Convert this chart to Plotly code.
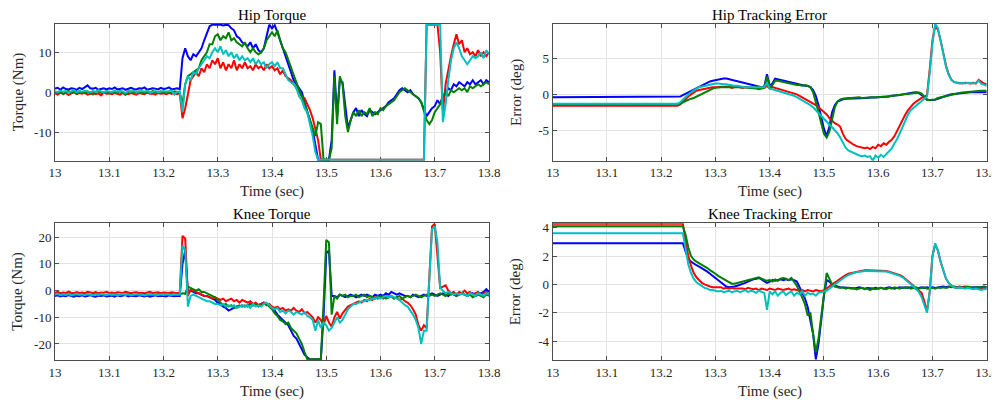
import plotly.graph_objects as go

# sampling of the recorded signals
T0 = 13.0
DT = 0.005

# ---------------- Hip Torque (Nm) ----------------
HT_B = [0.9, 1.1, 0.6, 1.2, 0.8, 0.7, 1.0, 0.9, 0.6, 1.1,
        0.8, 1.3, 1.7, 1.0, 0.9, 1.1, 0.6, 0.8, 1.0, 0.7,
        1.0, 0.8, 1.2, 0.7, 0.9, 1.0, 0.6, 0.9, 1.1, 0.8,
        0.7, 1.0, 0.9, 1.2, 0.6, 0.8, 1.0, 0.9, 0.7, 1.1,
        0.8, 0.9, 1.2, 0.7, 0.9, 1.0, 0.8, 8.5, 11.0, 9.0,
        8.0, 9.5, 9.0, 10.0, 11.0, 13.0, 15.0, 16.5, 16.9, 16.9,
        16.9, 16.9, 16.7, 16.9, 16.8, 16.0, 15.5, 14.0, 13.5, 12.5,
        12.0, 11.5, 12.5, 11.0, 12.0, 10.5, 10.0, 11.0, 14.0, 16.9,
        16.0, 16.8, 15.0, 13.0, 11.0, 9.0, 7.0, 5.0, 3.0, 2.0,
        1.0, 0.0, -2.5, -4.5, -7.0, -9.5, -13.0, -16.9, -16.9, -16.9,
        -16.9, -16.9, -12.0, 5.5, -6.0, 3.0, 2.5, -4.0, -9.0, -7.0,
        -5.0, -4.0, -6.0, -4.5, -5.5, -6.0, -4.5, -5.0, -5.5, -5.0,
        -4.5, -4.0, -3.5, -2.5, -2.0, -1.5, -0.5, 0.5, 1.0, 0.5,
        0.0, 0.5, -0.5, -1.0, -1.5, -2.5, -4.5, -6.0, -5.0, -4.0,
        -3.5, -2.0, -3.0, -1.0, -0.5, 1.0, 0.5, 2.0, 1.5, 2.5,
        2.0, 1.5, 2.5, 2.0, 3.0, 2.0, 2.5, 3.0, 2.0, 3.0,
        2.5]
HT_R = [-0.3, -0.6, -0.1, -0.4, -0.2, -0.7, -0.3, 0.0, -0.5, -0.2,
        -0.4, -0.1, -0.6, -0.3, -0.2, -0.5, -0.3, -0.8, -0.1, -0.4,
        -0.3, -0.5, -0.2, -0.4, -0.6, -0.1, -0.3, -0.5, -0.2, -0.4,
        -0.6, -0.2, -0.3, -0.5, -0.1, -0.4, -0.3, -0.6, -0.2, -0.4,
        -0.3, -0.5, -0.2, -0.4, -0.3, -0.5, -0.3, -6.5, -4.0, 0.0,
        3.0, 4.0, 5.0, 4.0, 6.0, 5.0, 7.0, 6.0, 8.0, 7.0,
        8.5, 6.0, 7.5, 5.5, 7.0, 6.0, 8.0, 5.5, 7.0, 6.0,
        7.5, 6.0, 6.5, 5.5, 7.0, 6.0, 6.5, 5.5, 7.0, 6.0,
        6.5, 5.5, 6.0, 4.5, 5.5, 4.0, 3.5, 3.0, 2.0, 1.0,
        0.0, -1.0, -1.5, -3.0, -4.5, -6.5, -9.0, -12.0, -16.9, -16.9,
        -16.9, -16.9, -16.9, -16.9, -16.9, -16.9, -16.9, -16.9, -16.9, -16.9,
        -16.9, -16.9, -16.9, -16.9, -16.9, -16.9, -16.9, -16.9, -16.9, -16.9,
        -16.9, -16.9, -16.9, -16.9, -16.9, -16.9, -16.9, -16.9, -16.9, -16.9,
        -16.9, -16.9, -16.9, -16.9, -16.9, -16.9, -16.9, 16.9, 16.9, 16.9,
        16.9, 16.9, 10.0, -5.0, 2.0, 6.0, 9.0, 12.0, 14.5, 12.0,
        13.0, 10.0, 11.0, 9.5, 10.0, 9.0, 10.5, 9.0, 10.0, 9.0,
        10.0]
HT_G = [0.2, -0.3, 0.1, -0.5, 0.0, 0.3, -0.2, 0.1, -0.4, 0.2,
        0.0, -0.3, 0.2, -0.1, -0.6, 0.1, 0.3, -0.2, 0.0, 0.2,
        -0.3, 0.1, 0.0, -0.2, 0.3, -0.1, -0.7, 0.1, 0.2, -0.2,
        0.0, 0.2, -0.3, 0.1, 0.0, -0.2, 0.3, -0.1, 0.0, 0.2,
        -0.2, 0.1, 0.0, -0.3, 0.2, 0.0, -0.1, -3.0, 2.0, 4.0,
        4.5, 5.0, 5.5, 6.0, 8.0, 9.0, 10.0, 12.0, 12.0, 14.0,
        14.5, 13.0, 14.0, 13.5, 15.0, 13.0, 13.5, 12.5, 12.0, 11.5,
        12.5, 11.0, 10.0, 11.0, 10.0, 9.5, 10.0, 11.0, 13.0, 14.0,
        15.0, 14.0, 15.5, 13.0, 11.0, 10.0, 8.0, 6.0, 4.0, 2.0,
        0.5, -1.0, -3.0, -5.0, -7.5, -9.0, -11.0, -7.5, -8.0, -16.9,
        -16.9, -16.9, -14.0, 4.0, -8.0, 4.0, 2.0, -6.0, -10.0, -7.0,
        -5.0, -6.0, -4.5, -6.0, -5.0, -5.5, -4.0, -6.0, -5.0, -5.5,
        -4.0, -4.5, -3.5, -3.0, -2.5, -2.0, -1.0, 0.0, 0.5, 1.0,
        0.5, 0.0, -0.5, -1.0, -1.5, -2.5, -5.0, -7.0, -8.0, -7.0,
        -5.0, -4.0, -3.0, -1.0, 0.0, -1.0, 0.5, 0.0, 0.5, 1.0,
        0.5, 1.0, 0.0, 1.5, 1.0, 1.5, 2.0, 1.5, 2.0, 2.5,
        2.0]
HT_C = [0.2, 0.0, 0.4, 0.1, 0.3, -0.1, 0.2, 0.5, 0.0, 0.3,
        0.1, 0.4, 0.2, 0.0, 0.3, 0.1, 0.5, 0.2, -0.1, 0.3,
        0.2, 0.0, 0.4, 0.1, 0.3, 0.2, -0.2, 0.3, 0.1, 0.4,
        0.0, 0.2, 0.3, 0.1, 0.4, -0.1, 0.2, 0.3, 0.0, 0.2,
        0.3, 0.1, 0.2, 0.4, -0.6, 0.1, 0.2, -5.0, 2.0, 4.0,
        3.0, 5.0, 4.5, 6.0, 7.0, 8.0, 9.0, 8.5, 10.0, 11.0,
        10.0, 11.5, 9.5, 10.5, 9.0, 10.0, 8.5, 9.5, 8.0, 9.0,
        8.0, 8.5, 7.5, 8.5, 7.0, 8.0, 7.0, 7.5, 6.0, 7.0,
        7.5, 6.5, 7.5, 6.0, 6.0, 4.5, 3.0, 2.5, 2.0, 1.0,
        -1.0, -2.0, -4.0, -5.0, -8.0, -11.0, -15.0, -16.9, -16.9, -16.9,
        -16.9, -16.9, -16.9, -16.9, -16.9, -16.9, -16.9, -16.9, -16.9, -16.9,
        -16.9, -16.9, -16.9, -16.9, -16.9, -16.9, -16.9, -16.9, -16.9, -16.9,
        -16.9, -16.9, -16.9, -16.9, -16.9, -16.9, -16.9, -16.9, -16.9, -16.9,
        -16.9, -16.9, -16.9, -16.9, -16.9, -16.9, -16.9, 16.9, 16.9, 16.9,
        16.9, 16.9, 16.9, -7.5, -3.0, 3.0, 8.0, 11.0, 12.5, 11.0,
        9.0, 8.0, 7.0, 8.0, 9.0, 8.5, 9.0, 10.0, 8.5, 10.5,
        9.5]

# ---------------- Hip Tracking Error (deg) ----------------
HE_B = [-0.4, -0.4, -0.4, -0.4, -0.4, -0.4, -0.4, -0.4, -0.4, -0.4,
        -0.4, -0.4, -0.4, -0.4, -0.4, -0.4, -0.4, -0.4, -0.4, -0.4,
        -0.4, -0.4, -0.4, -0.4, -0.4, -0.4, -0.4, -0.4, -0.4, -0.4,
        -0.4, -0.4, -0.4, -0.4, -0.4, -0.4, -0.4, -0.4, -0.4, -0.4,
        -0.4, -0.4, -0.4, -0.4, -0.4, -0.4, -0.4, -0.3, -0.1, 0.1,
        0.3, 0.5, 0.6, 0.8, 1.0, 1.2, 1.4, 1.6, 1.8, 1.9,
        2.0, 2.1, 2.2, 2.2, 2.2, 2.1, 2.1, 2.0, 1.9, 1.8,
        1.7, 1.6, 1.5, 1.3, 1.2, 1.1, 1.0, 1.0, 1.1, 2.8,
        1.2, 1.5, 2.2, 2.1, 2.0, 1.9, 1.9, 1.8, 1.7, 1.6,
        1.5, 1.4, 1.3, 1.2, 1.2, 1.0, 0.6, -0.2, -1.5, -3.0,
        -4.8, -5.8, -4.5, -2.5, -1.5, -1.0, -0.8, -0.7, -0.6, -0.6,
        -0.6, -0.55, -0.6, -0.5, -0.55, -0.5, -0.5, -0.45, -0.5, -0.45,
        -0.4, -0.4, -0.35, -0.3, -0.3, -0.2, -0.2, -0.1, -0.1, 0.0,
        0.1, 0.15, 0.2, 0.25, 0.3, 0.2, -0.1, -0.4, -0.7, -0.8,
        -0.8, -0.75, -0.6, -0.45, -0.3, -0.2, -0.1, 0.0, 0.05, 0.1,
        0.2, 0.2, 0.25, 0.25, 0.3, 0.3, 0.25, 0.3, 0.3, 0.3,
        0.3]
HE_R = [-1.6, -1.6, -1.6, -1.6, -1.6, -1.6, -1.6, -1.6, -1.6, -1.6,
        -1.6, -1.6, -1.6, -1.6, -1.6, -1.6, -1.6, -1.6, -1.6, -1.6,
        -1.6, -1.6, -1.6, -1.6, -1.6, -1.6, -1.6, -1.6, -1.6, -1.6,
        -1.6, -1.6, -1.6, -1.6, -1.6, -1.6, -1.6, -1.6, -1.6, -1.6,
        -1.6, -1.6, -1.6, -1.6, -1.6, -1.6, -1.6, -1.4, -1.0, -0.6,
        -0.3, 0.0, 0.3, 0.5, 0.6, 0.7, 0.7, 0.8, 0.9, 1.0,
        1.0, 1.0, 1.1, 1.0, 1.0, 1.1, 0.9, 1.0, 1.1, 1.0,
        0.9, 1.0, 1.0, 0.9, 1.0, 0.9, 0.9, 1.0, 0.9, 1.2,
        0.8, 1.0, 0.9, 0.8, 0.6, 0.5, 0.4, 0.3, 0.2, 0.1,
        0.0, -0.2, -0.4, -0.6, -0.8, -1.0, -1.2, -1.5, -1.8, -2.1,
        -2.4, -2.8, -3.3, -3.7, -4.0, -4.2, -4.5, -5.5, -6.2, -6.5,
        -6.8, -7.0, -7.2, -7.3, -7.4, -7.5, -7.4, -7.6, -7.3, -7.5,
        -7.0, -7.2, -6.8, -7.0, -6.6, -6.3, -5.8, -5.0, -4.2, -3.5,
        -2.8, -2.2, -1.7, -1.3, -1.0, -0.7, -0.5, -0.3, -0.1, 3.5,
        7.5, 9.5, 9.0, 7.5, 5.5, 4.0, 2.8, 2.0, 1.7, 1.6,
        1.6, 1.5, 1.6, 1.5, 1.5, 1.6, 1.5, 2.0, 1.7, 1.5,
        1.4]
HE_G = [-1.4, -1.4, -1.4, -1.4, -1.4, -1.4, -1.4, -1.4, -1.4, -1.4,
        -1.4, -1.4, -1.4, -1.4, -1.4, -1.4, -1.4, -1.4, -1.4, -1.4,
        -1.4, -1.4, -1.4, -1.4, -1.4, -1.4, -1.4, -1.4, -1.4, -1.4,
        -1.4, -1.4, -1.4, -1.4, -1.4, -1.4, -1.4, -1.4, -1.4, -1.4,
        -1.4, -1.4, -1.4, -1.4, -1.4, -1.4, -1.4, -1.3, -1.1, -0.9,
        -0.8, -0.6, -0.5, -0.3, -0.2, 0.0, 0.2, 0.4, 0.6, 0.8,
        0.9, 1.0, 1.0, 1.0, 1.0, 1.1, 1.0, 1.0, 1.0, 1.0,
        1.0, 1.0, 0.9, 0.9, 0.8, 0.8, 0.7, 0.8, 0.9, 2.5,
        1.0, 1.3, 1.9, 1.9, 1.8, 1.7, 1.6, 1.5, 1.4, 1.4,
        1.3, 1.3, 1.2, 1.3, 1.2, 1.0, 0.3, -1.0, -2.5, -4.0,
        -5.5, -6.0, -5.2, -3.5, -1.8, -1.0, -0.7, -0.6, -0.5, -0.5,
        -0.5, -0.45, -0.5, -0.4, -0.5, -0.45, -0.4, -0.45, -0.4, -0.4,
        -0.4, -0.35, -0.3, -0.3, -0.25, -0.2, -0.15, -0.1, -0.05, 0.0,
        0.1, 0.15, 0.2, 0.25, 0.3, 0.25, 0.1, -0.3, -0.8, -0.8,
        -0.8, -0.7, -0.5, -0.4, -0.3, -0.2, -0.1, 0.0, 0.1, 0.15,
        0.2, 0.25, 0.3, 0.35, 0.4, 0.4, 0.45, 0.45, 0.5, 0.5,
        0.5]
HE_C = [-1.3, -1.3, -1.3, -1.3, -1.3, -1.3, -1.3, -1.3, -1.3, -1.3,
        -1.3, -1.3, -1.3, -1.3, -1.3, -1.3, -1.3, -1.3, -1.3, -1.3,
        -1.3, -1.3, -1.3, -1.3, -1.3, -1.3, -1.3, -1.3, -1.3, -1.3,
        -1.3, -1.3, -1.3, -1.3, -1.3, -1.3, -1.3, -1.3, -1.3, -1.3,
        -1.3, -1.3, -1.3, -1.3, -1.3, -1.3, -1.3, -1.1, -0.7, -0.3,
        0.0, 0.3, 0.6, 0.8, 1.0, 1.1, 1.2, 1.3, 1.4, 1.5,
        1.5, 1.5, 1.4, 1.4, 1.4, 1.3, 1.3, 1.2, 1.2, 1.1,
        1.1, 1.0, 1.0, 1.0, 1.0, 1.0, 0.9, 0.9, 1.0, 1.6,
        0.8, 0.7, 0.6, 0.5, 0.4, 0.3, 0.2, 0.1, 0.0, -0.2,
        -0.4, -0.6, -0.8, -1.0, -1.2, -1.5, -1.8, -2.2, -2.6, -3.0,
        -3.4, -3.8, -4.2, -4.6, -5.0, -5.4, -6.0, -6.8, -7.4, -7.8,
        -8.0, -8.2, -8.4, -8.5, -8.6, -8.5, -8.7, -8.6, -9.2, -8.5,
        -8.8, -8.4, -8.7, -8.3, -8.0, -7.5, -6.8, -6.2, -5.4, -4.5,
        -3.6, -2.8, -2.2, -1.9, -1.6, -1.3, -1.0, -0.7, -0.3, 3.0,
        7.0, 9.8, 9.2, 7.5, 5.5, 3.8, 2.7, 2.0, 1.7, 1.6,
        1.5, 1.6, 1.5, 1.6, 1.5, 1.5, 1.6, 1.9, 1.5, 1.3,
        1.2]

# ---------------- Knee Torque (Nm) ----------------
KT_B = [-2.0, -1.8, -2.2, -1.9, -2.1, -1.7, -2.0, -2.3, -1.9, -2.1,
        -1.8, -2.2, -2.0, -1.7, -2.1, -2.3, -1.9, -2.0, -1.8, -2.2,
        -2.0, -1.9, -2.3, -1.8, -2.1, -2.0, -1.7, -2.2, -1.9, -2.0,
        -2.1, -1.8, -2.0, -2.2, -1.9, -2.3, -2.0, -1.8, -2.1, -1.9,
        -2.0, -2.2, -1.8, -2.0, -2.1, -1.9, -2.0, 10.0, 15.0, -1.0,
        0.0, -0.5, -1.0, -1.0, -1.5, -2.0, -2.0, -2.5, -3.0, -3.5,
        -4.5, -5.0, -6.0, -6.5, -7.5, -7.0, -6.5, -6.0, -6.0, -5.5,
        -6.0, -5.5, -5.0, -5.5, -5.0, -5.5, -5.0, -4.5, -5.0, -5.5,
        -6.5, -7.5, -9.0, -10.0, -11.0, -12.0, -13.0, -15.0, -17.0, -18.0,
        -20.0, -22.0, -24.0, -25.0, -25.7, -25.7, -25.7, -25.7, -25.7, -10.0,
        14.0, 15.0, -2.0, -2.0, -2.5, -1.5, -2.0, -2.5, -2.0, -1.5,
        -2.0, -2.5, -2.0, -1.5, -2.0, -1.5, -2.0, -2.5, -1.5, -2.0,
        -1.5, -2.0, -1.0, -1.5, -0.5, -1.0, -1.5, -1.0, -1.5, -2.0,
        -2.0, -2.5, -1.5, -2.0, -2.5, -2.0, -1.5, -2.0, -1.5, -1.0,
        -1.5, -2.0, -1.5, -1.0, -1.5, -2.0, -1.0, -1.5, -2.0, -1.5,
        -1.0, -1.5, -2.0, -1.5, -1.0, -2.0, -1.5, -1.0, -0.5, 0.5,
        -0.5]
KT_R = [-0.8, -0.5, -1.0, -0.7, -0.9, -0.4, -0.8, -1.0, -0.6, -0.9,
        -0.7, -1.0, -0.5, -0.8, -0.9, -0.6, -1.0, -0.7, -0.8, -0.5,
        -0.9, -0.7, -1.0, -0.6, -0.8, -0.9, -0.5, -0.8, -1.0, -0.7,
        -0.6, -0.9, -0.8, -1.0, -0.7, -0.5, -0.9, -0.8, -0.6, -1.0,
        -0.7, -0.8, -0.9, -0.6, -0.8, -1.0, -0.7, 20.5, 19.5, -2.0,
        0.5, 0.0, -0.5, -1.0, -1.5, -2.0, -2.0, -2.5, -3.0, -2.5,
        -3.0, -3.5, -3.0, -4.0, -3.5, -3.0, -4.0, -3.5, -4.5, -3.5,
        -4.0, -4.5, -4.0, -5.0, -4.5, -5.5, -5.0, -4.5, -5.5, -5.0,
        -6.0, -6.5, -6.0, -7.0, -6.5, -7.5, -7.0, -7.5, -6.5, -7.5,
        -8.0, -7.0, -8.5, -8.0, -9.0, -10.0, -12.0, -10.0, -11.0, -13.0,
        -9.5, -12.0, -13.5, -10.0, -8.0, -10.5, -8.5, -7.0, -6.0, -5.5,
        -5.0, -4.5, -4.0, -4.5, -3.5, -4.0, -3.0, -3.5, -2.5, -3.0,
        -2.5, -3.0, -2.0, -2.5, -2.0, -3.0, -2.5, -3.5, -3.0, -4.0,
        -4.5, -5.5, -7.0, -9.0, -13.0, -15.0, -13.0, -14.0, 5.0, 24.0,
        25.0, 12.0, 1.0, 1.5, 2.0, 0.0, -1.0, -0.5, -1.5, -0.5,
        -1.0, 0.0, -1.0, -0.5, -1.5, -1.0, -0.5, -1.5, -1.0, -0.5,
        -1.5]
KT_G = [-1.5, -1.3, -1.7, -1.4, -1.6, -1.2, -1.5, -1.8, -1.4, -1.6,
        -1.3, -1.6, -1.4, -1.7, -1.5, -1.2, -1.6, -1.4, -1.8, -1.5,
        -1.4, -1.6, -1.3, -1.5, -1.7, -1.4, -1.6, -1.2, -1.5, -1.7,
        -1.5, -1.3, -1.6, -1.4, -1.7, -1.5, -1.3, -1.6, -1.4, -1.5,
        -1.6, -1.4, -1.5, -1.3, -1.7, -1.5, -1.4, -1.0, -1.2, 1.5,
        1.0, 0.5, 0.0, 0.5, -0.5, -0.5, -1.0, -1.5, -2.0, -2.5,
        -3.5, -4.5, -5.5, -5.0, -6.0, -5.5, -6.5, -6.0, -5.5, -6.0,
        -5.5, -6.0, -5.0, -5.5, -5.0, -6.0, -5.5, -5.0, -5.0, -6.0,
        -7.0, -8.5, -9.5, -11.0, -11.5, -12.5, -12.0, -14.0, -15.0, -16.0,
        -18.0, -20.0, -23.0, -25.7, -25.7, -25.7, -25.7, -25.7, -25.7, -5.0,
        19.0, 18.0, -9.0, -2.0, -3.0, -1.5, -2.0, -1.5, -2.5, -2.0,
        -2.0, -1.5, -2.5, -2.0, -1.5, -2.5, -2.0, -2.5, -3.0, -2.0,
        -2.5, -2.0, -3.0, -2.5, -2.0, -3.0, -2.5, -2.0, -3.0, -2.5,
        -2.0, -2.5, -2.0, -1.5, -2.0, -2.5, -2.0, -1.5, -2.0, -1.5,
        -2.0, -1.5, -1.0, -1.5, -2.0, -1.0, -1.5, -1.0, -2.0, -1.5,
        -1.0, -1.5, -2.0, -1.5, -2.5, -2.0, -1.5, -2.0, -2.5, -1.5,
        -2.0]
KT_C = [-1.5, -1.2, -1.7, -1.4, -1.6, -1.3, -1.8, -1.5, -1.2, -1.6,
        -1.4, -1.7, -1.3, -1.5, -1.8, -1.4, -1.6, -1.2, -1.5, -1.7,
        -1.3, -1.6, -1.4, -1.8, -1.5, -1.2, -1.6, -1.4, -1.7, -1.5,
        -1.3, -1.6, -1.5, -1.8, -1.4, -1.2, -1.6, -1.5, -1.7, -1.4,
        -1.6, -1.3, -1.5, -1.7, -1.4, -1.6, -1.5, 17.0, 15.0, -6.0,
        -2.0, -1.5, -2.0, -2.5, -3.0, -3.5, -4.0, -4.0, -4.5, -5.0,
        -5.0, -5.5, -5.0, -6.0, -5.5, -6.0, -5.5, -6.5, -6.0, -5.5,
        -6.0, -5.5, -6.5, -5.0, -6.0, -5.5, -6.0, -5.0, -4.5, -5.5,
        -6.5, -7.0, -6.5, -8.0, -7.5, -8.5, -7.5, -8.0, -9.0, -8.0,
        -8.5, -9.0, -8.0, -9.5, -10.0, -11.0, -15.0, -11.0, -14.0, -12.0,
        -13.0, -15.0, -14.0, -12.0, -10.0, -12.0, -11.0, -9.0, -7.0, -6.0,
        -5.0, -5.0, -4.5, -4.0, -4.0, -3.5, -3.5, -3.0, -3.0, -2.5,
        -3.0, -2.5, -2.0, -2.5, -2.0, -2.5, -3.0, -3.5, -4.5, -5.5,
        -6.0, -7.5, -9.0, -11.0, -14.0, -20.0, -15.0, -15.0, 2.0, 23.0,
        24.0, 18.0, 1.0, 0.0, -1.0, -0.5, -1.0, -1.5, -1.0, -1.5,
        -1.0, -1.5, -2.0, -1.0, -1.5, -2.0, -1.0, -1.5, -2.0, -1.0,
        -1.5]

# ---------------- Knee Tracking Error (deg) ----------------
KE_B = [2.9, 2.9, 2.9, 2.9, 2.9, 2.9, 2.9, 2.9, 2.9, 2.9,
        2.9, 2.9, 2.9, 2.9, 2.9, 2.9, 2.9, 2.9, 2.9, 2.9,
        2.9, 2.9, 2.9, 2.9, 2.9, 2.9, 2.9, 2.9, 2.9, 2.9,
        2.9, 2.9, 2.9, 2.9, 2.9, 2.9, 2.9, 2.9, 2.9, 2.9,
        2.9, 2.9, 2.9, 2.9, 2.9, 2.9, 2.9, 2.9, 2.9, 2.3,
        1.8, 1.6, 1.45, 1.35, 1.25, 1.15, 1.0, 0.9, 0.75, 0.6,
        0.45, 0.3, 0.15, 0.0, -0.15, -0.2, -0.2, -0.15, -0.1, -0.05,
        0.0, 0.1, 0.2, 0.3, 0.35, 0.4, 0.45, 0.35, 0.2, 0.1,
        0.2, 0.3, 0.25, 0.3, 0.35, 0.3, 0.35, 0.3, 0.35, 0.3,
        0.2, -0.2, -0.6, -1.0, -1.6, -2.5, -3.5, -5.3, -4.2, -2.5,
        -0.8, 0.3, 0.2, 0.0, -0.1, -0.15, -0.2, -0.2, -0.25, -0.2,
        -0.25, -0.3, -0.25, -0.2, -0.25, -0.3, -0.25, -0.3, -0.3, -0.25,
        -0.3, -0.25, -0.3, -0.25, -0.2, -0.25, -0.3, -0.25, -0.2, -0.25,
        -0.2, -0.25, -0.2, -0.25, -0.3, -0.25, -0.2, -0.25, -0.2, -0.25,
        -0.2, -0.25, -0.2, -0.2, -0.15, -0.2, -0.15, -0.2, -0.15, -0.2,
        -0.15, -0.2, -0.15, -0.2, -0.25, -0.2, -0.2, -0.25, -0.2, -0.15,
        -0.2]
KE_R = [4.27, 4.27, 4.27, 4.27, 4.27, 4.27, 4.27, 4.27, 4.27, 4.27,
        4.27, 4.27, 4.27, 4.27, 4.27, 4.27, 4.27, 4.27, 4.27, 4.27,
        4.27, 4.27, 4.27, 4.27, 4.27, 4.27, 4.27, 4.27, 4.27, 4.27,
        4.27, 4.27, 4.27, 4.27, 4.27, 4.27, 4.27, 4.27, 4.27, 4.27,
        4.27, 4.27, 4.27, 4.27, 4.27, 4.27, 4.27, 4.27, 4.27, 3.0,
        2.0, 1.3, 0.8, 0.5, 0.3, 0.1, 0.0, -0.1, -0.15, -0.2,
        -0.2, -0.25, -0.2, -0.3, -0.25, -0.3, -0.25, -0.3, -0.3, -0.25,
        -0.3, -0.35, -0.25, -0.3, -0.35, -0.3, -0.4, -0.3, -0.35, -0.4,
        -0.3, -0.35, -0.4, -0.3, -0.35, -0.4, -0.35, -0.3, -0.4, -0.35,
        -0.4, -0.45, -0.4, -0.5, -0.4, -0.45, -0.5, -0.4, -0.45, -0.5,
        -0.4, -0.3, -0.15, 0.0, 0.1, 0.25, 0.4, 0.55, 0.65, 0.75,
        0.8, 0.85, 0.9, 0.95, 0.95, 1.0, 1.0, 1.0, 1.0, 1.0,
        1.0, 1.0, 0.95, 0.95, 0.9, 0.85, 0.8, 0.75, 0.65, 0.55,
        0.4, 0.25, 0.1, -0.1, -0.3, -0.45, -0.6, -1.2, -1.9, -0.5,
        2.0, 2.8, 2.4, 1.6, 0.9, 0.4, 0.1, -0.1, -0.2, -0.2,
        -0.2, -0.25, -0.2, -0.25, -0.2, -0.3, -0.25, -0.3, -0.3, -0.25,
        -0.3]
KE_G = [4.1, 4.1, 4.1, 4.1, 4.1, 4.1, 4.1, 4.1, 4.1, 4.1,
        4.1, 4.1, 4.1, 4.1, 4.1, 4.1, 4.1, 4.1, 4.1, 4.1,
        4.1, 4.1, 4.1, 4.1, 4.1, 4.1, 4.1, 4.1, 4.1, 4.1,
        4.1, 4.1, 4.1, 4.1, 4.1, 4.1, 4.1, 4.1, 4.1, 4.1,
        4.1, 4.1, 4.1, 4.1, 4.1, 4.1, 4.1, 4.1, 4.1, 3.5,
        2.6, 2.0, 1.75, 1.6, 1.5, 1.4, 1.25, 1.15, 1.0, 0.9,
        0.75, 0.6, 0.5, 0.35, 0.25, 0.15, 0.05, 0.05, 0.1, 0.15,
        0.2, 0.25, 0.3, 0.35, 0.4, 0.45, 0.5, 0.4, 0.3, 0.25,
        0.3, 0.2, 0.35, 0.25, 0.4, 0.45, 0.4, 0.3, 0.45, 0.2,
        -0.1, -0.5, -0.9, -1.4, -2.2, -2.0, -3.5, -4.8, -3.8, -2.2,
        -0.5, 0.8, 0.4, 0.0, -0.15, -0.2, -0.25, -0.2, -0.3, -0.25,
        -0.3, -0.25, -0.35, -0.3, -0.25, -0.35, -0.3, -0.4, -0.3, -0.35,
        -0.3, -0.25, -0.3, -0.35, -0.25, -0.3, -0.2, -0.25, -0.3, -0.2,
        -0.25, -0.2, -0.3, -0.25, -0.2, -0.3, -0.25, -0.2, -0.3, -0.25,
        -0.25, -0.3, -0.2, -0.25, -0.2, -0.25, -0.2, -0.15, -0.2, -0.25,
        -0.2, -0.25, -0.2, -0.15, -0.2, -0.25, -0.2, -0.2, -0.25, -0.2,
        -0.2]
KE_C = [3.6, 3.6, 3.6, 3.6, 3.6, 3.6, 3.6, 3.6, 3.6, 3.6,
        3.6, 3.6, 3.6, 3.6, 3.6, 3.6, 3.6, 3.6, 3.6, 3.6,
        3.6, 3.6, 3.6, 3.6, 3.6, 3.6, 3.6, 3.6, 3.6, 3.6,
        3.6, 3.6, 3.6, 3.6, 3.6, 3.6, 3.6, 3.6, 3.6, 3.6,
        3.6, 3.6, 3.6, 3.6, 3.6, 3.6, 3.6, 3.6, 3.6, 2.5,
        1.4, 0.8, 0.4, 0.15, 0.0, -0.15, -0.25, -0.3, -0.4, -0.4,
        -0.45, -0.5, -0.45, -0.55, -0.5, -0.45, -0.55, -0.5, -0.45, -0.55,
        -0.5, -0.4, -0.55, -0.45, -0.5, -0.6, -0.45, -0.5, -0.6, -1.8,
        -0.5, -0.7, -0.5, -0.8, -0.6, -0.5, -0.75, -0.6, -0.5, -0.8,
        -0.6, -0.7, -0.5, -0.8, -0.6, -0.7, -0.65, -0.8, -0.6, -0.55,
        -0.5, -0.45, -0.3, -0.15, 0.0, 0.15, 0.3, 0.45, 0.55, 0.65,
        0.75, 0.8, 0.85, 0.9, 0.9, 0.95, 0.95, 0.95, 0.95, 0.95,
        0.95, 0.95, 0.9, 0.9, 0.85, 0.8, 0.75, 0.7, 0.6, 0.5,
        0.35, 0.2, 0.05, -0.15, -0.35, -0.55, -0.9, -1.5, -2.0, -0.5,
        2.0, 2.9, 2.4, 1.6, 0.9, 0.4, 0.1, -0.1, -0.2, -0.25,
        -0.2, -0.25, -0.3, -0.25, -0.3, -0.35, -0.3, -0.35, -0.4, -0.35,
        -0.35]

X_TICKS = [13.0, 13.1, 13.2, 13.3, 13.4, 13.5, 13.6, 13.7, 13.8]
X_LABELS = ["13", "13.1", "13.2", "13.3", "13.4", "13.5", "13.6", "13.7", "13.8"]

COLORS = ["#0000ff", "#ff0000", "#008000", "#00bfbf"]
NAMES = ["Blue", "Red", "Green", "Cyan"]

W, H = 1000, 401
OFF = 8   # the page places the figure 8 px in from the top-left corner
FONT = "Liberation Serif"
TXT = "#262626"

# panel boxes in page pixels (left, right), (top, bottom)
panels = [
    dict(title="Hip Torque", ylab="Torque (Nm)", series=[HT_B, HT_R, HT_G, HT_C],
         yr=[-17.15, 17.15], yt=[-10, 0, 10], xpx=(55, 489), ypx=(23.7, 160.7)),
    dict(title="Hip Tracking Error", ylab="Error (deg)", series=[HE_B, HE_R, HE_G, HE_C],
         yr=[-9.22, 9.82], yt=[-5, 0, 5], xpx=(552.7, 986.7), ypx=(23.7, 160.7)),
    dict(title="Knee Torque", ylab="Torque (Nm)", series=[KT_B, KT_R, KT_G, KT_C],
         yr=[-26.0, 25.2], yt=[-20, -10, 0, 10, 20], xpx=(55, 489), ypx=(223.3, 360)),
    dict(title="Knee Tracking Error", ylab="Error (deg)", series=[KE_B, KE_R, KE_G, KE_C],
         yr=[-5.34, 4.31], yt=[-4, -2, 0, 2, 4], xpx=(552.7, 986.7), ypx=(223.3, 360)),
]

for p in panels:
    for s in p["series"]:
        assert len(s) == 161, (p["title"], len(s))


def px_x(v):
    return (v - OFF) / W


def px_y(v):
    return 1 - (v - OFF) / H


fig = go.Figure()
annotations = []
for i, p in enumerate(panels, start=1):
    xa = "x" if i == 1 else f"x{i}"
    ya = "y" if i == 1 else f"y{i}"
    for s, c, n in zip(p["series"], COLORS, NAMES):
        fig.add_trace(go.Scatter(y=s, x0=T0, dx=DT, mode="lines", name=n,
                                 line=dict(color=c, width=2), xaxis=xa, yaxis=ya,
                                 showlegend=False, hoverinfo="skip"))
    xd = [px_x(p["xpx"][0]), px_x(p["xpx"][1])]
    yd = [px_y(p["ypx"][1]), px_y(p["ypx"][0])]
    common = dict(showline=True, linecolor="#4d4d4d", linewidth=1, mirror="ticks",
                  ticks="inside", ticklen=4, tickcolor="#4d4d4d", automargin=False,
                  showgrid=True, gridcolor="#e3e3e3", gridwidth=1, zeroline=False,
                  layer="below traces",
                  tickfont=dict(family=FONT, size=13, color=TXT))
    fig.layout[("xaxis" if i == 1 else f"xaxis{i}")] = dict(
        domain=xd, anchor=ya, range=[13.0, 13.8], tickvals=X_TICKS, ticktext=X_LABELS, **common)
    fig.layout[("yaxis" if i == 1 else f"yaxis{i}")] = dict(
        domain=yd, anchor=xa, range=p["yr"], tickvals=p["yt"],
        ticktext=[str(v) for v in p["yt"]], **common)
    xc = (xd[0] + xd[1]) / 2
    yc = (yd[0] + yd[1]) / 2
    annotations.append(dict(text=p["title"], x=xc, y=px_y(p["ypx"][0] - 9.0),
                            xref="paper", yref="paper", showarrow=False,
                            xanchor="center", yanchor="middle",
                            font=dict(family=FONT, size=15, color="#000000")))
    annotations.append(dict(text="Time (sec)", x=xc, y=px_y(p["ypx"][1] + 31),
                            xref="paper", yref="paper", showarrow=False,
                            xanchor="center", yanchor="middle",
                            font=dict(family=FONT, size=15, color=TXT)))
    annotations.append(dict(text=p["ylab"], x=px_x(p["xpx"][0] - 37), y=yc,
                            xref="paper", yref="paper", showarrow=False, textangle=-90,
                            xanchor="center", yanchor="middle",
                            font=dict(family=FONT, size=15, color=TXT)))

fig.update_layout(template="none", width=W, height=H,
                  margin=dict(l=0, r=0, t=0, b=0, pad=0, autoexpand=False),
                  paper_bgcolor="white", plot_bgcolor="white",
                  annotations=annotations, showlegend=False)

fig.write_html("out.html")
